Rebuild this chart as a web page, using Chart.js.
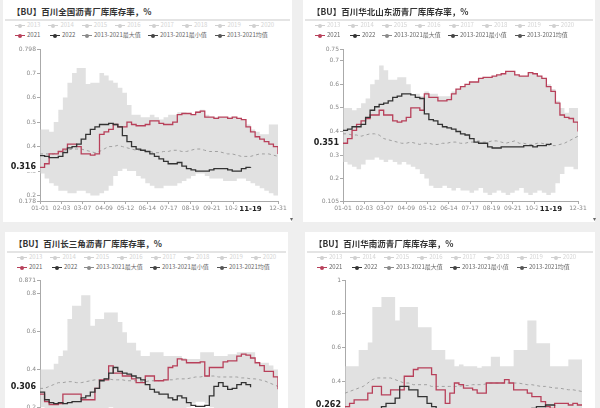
<!DOCTYPE html>
<html>
<head>
<meta charset="utf-8">
<script src="https://cdn.jsdelivr.net/npm/chart.js@4/dist/chart.umd.min.js"></script>
<style>
  body { margin: 0; width: 600px; height: 408px; overflow: hidden; background: #efefef; font-family: "Noto Sans CJK SC", "Noto Sans", sans-serif; }
  .card { position: absolute; background: #fff; height: 222px; }
  .title { position: absolute; left: 9px; top: 5px; font-size: 8.5px; font-weight: bold; color: #333; white-space: nowrap; }
  .sep { position: absolute; left: 2px; right: 2px; top: 19px; height: 2px; background: #e4e4e4; }
  .row { position: absolute; left: 0; right: 0; height: 8px; }
  .it { position: absolute; height: 8px; font-size: 6px; line-height: 8px; white-space: nowrap; }
  .mk { position: absolute; left: 0; top: 4px; width: 10px; height: 1px; }
  .mk::after { content: ''; position: absolute; left: 3px; top: -1.5px; width: 4px; height: 4px; border-radius: 50%; background: inherit; }
  .tx { position: absolute; left: 12px; top: 0; }
  canvas { position: absolute; left: 0; top: 40px; }
  .corner { position: absolute; font-size: 6px; color: #666; }
</style>
</head>
<body>
<div id="page"></div>
<script>
// week points: day 0, 7, 14 ... 364
const xTickDays = [0, 33, 65, 98, 131, 164, 197, 230, 263, 296, 364];
const xTickLabels = ['01-01', '02-03', '03-07', '04-09', '05-12', '06-14', '07-17', '08-19', '09-21', '10-24', '12-31'];
const lastDay = 322;
const lastDayLabel = '11-19';

const fadedYears = ['2013', '2014', '2015', '2016', '2017', '2018', '2019', '2020'];
const seriesNames = ['2021', '2022', '2013-2021最大值', '2013-2021最小值', '2013-2021均值'];

// 全国
const qg2021 = [0.315,0.33,0.37,0.37,0.38,0.39,0.41,0.41,0.40,0.37,0.37,0.365,0.37,0.45,0.46,0.47,0.49,0.48,0.48,0.50,0.49,0.485,0.485,0.49,0.505,0.505,0.495,0.49,0.49,0.50,0.53,0.535,0.535,0.53,0.54,0.545,0.52,0.52,0.515,0.52,0.52,0.515,0.52,0.515,0.51,0.48,0.46,0.44,0.43,0.42,0.41,0.40,0.37];
const qg2022 = [0.363,0.36,0.355,0.355,0.36,0.375,0.395,0.40,0.41,0.43,0.45,0.47,0.48,0.49,0.49,0.495,0.49,0.48,0.445,0.42,0.40,0.39,0.385,0.38,0.37,0.36,0.35,0.34,0.33,0.33,0.335,0.32,0.31,0.305,0.30,0.30,0.30,0.305,0.31,0.31,0.31,0.305,0.30,0.30,0.31,0.315,0.316];
const qgMax = [0.47,0.47,0.46,0.50,0.55,0.60,0.66,0.70,0.72,0.72,0.655,0.66,0.66,0.70,0.69,0.67,0.66,0.64,0.62,0.57,0.53,0.53,0.52,0.52,0.53,0.52,0.51,0.52,0.53,0.53,0.54,0.54,0.535,0.53,0.545,0.55,0.53,0.52,0.52,0.52,0.52,0.52,0.52,0.515,0.51,0.49,0.47,0.46,0.45,0.45,0.49,0.49,0.47];
const qgMin = [0.29,0.27,0.25,0.24,0.22,0.22,0.21,0.21,0.22,0.22,0.21,0.20,0.20,0.21,0.22,0.24,0.28,0.30,0.31,0.30,0.30,0.28,0.27,0.25,0.24,0.23,0.23,0.24,0.24,0.24,0.25,0.26,0.27,0.28,0.29,0.29,0.28,0.27,0.27,0.27,0.26,0.26,0.26,0.27,0.27,0.26,0.25,0.24,0.23,0.22,0.21,0.20,0.19];
const qgAvg = [0.37,0.37,0.37,0.37,0.38,0.38,0.385,0.39,0.39,0.39,0.385,0.38,0.375,0.38,0.39,0.40,0.40,0.405,0.40,0.395,0.39,0.385,0.385,0.38,0.38,0.375,0.375,0.38,0.38,0.385,0.385,0.38,0.38,0.385,0.39,0.39,0.385,0.38,0.38,0.38,0.375,0.37,0.37,0.365,0.36,0.36,0.36,0.365,0.37,0.37,0.37,0.365,0.36];
const qgYTicks = [0.178, 0.2, 0.3, 0.4, 0.5, 0.6, 0.7, 0.798];

// 华北山东
const hb2021 = [0.35,0.37,0.405,0.43,0.445,0.455,0.47,0.47,0.49,0.47,0.47,0.445,0.44,0.445,0.46,0.50,0.50,0.49,0.56,0.545,0.545,0.53,0.53,0.535,0.56,0.58,0.59,0.60,0.61,0.61,0.625,0.63,0.63,0.635,0.64,0.645,0.655,0.655,0.64,0.635,0.635,0.65,0.645,0.635,0.625,0.59,0.57,0.52,0.47,0.46,0.455,0.44,0.40];
const hb2022 = [0.405,0.41,0.42,0.42,0.43,0.46,0.49,0.505,0.515,0.52,0.53,0.545,0.55,0.56,0.56,0.555,0.545,0.54,0.475,0.45,0.445,0.43,0.42,0.415,0.41,0.40,0.39,0.385,0.37,0.355,0.35,0.35,0.335,0.33,0.33,0.335,0.335,0.335,0.335,0.335,0.34,0.34,0.335,0.34,0.34,0.345,0.351];
const hbMax = [0.50,0.50,0.49,0.50,0.52,0.54,0.60,0.62,0.68,0.66,0.62,0.62,0.63,0.63,0.60,0.55,0.56,0.55,0.57,0.56,0.56,0.55,0.55,0.55,0.57,0.58,0.59,0.60,0.61,0.61,0.625,0.63,0.63,0.635,0.64,0.645,0.655,0.655,0.64,0.635,0.635,0.65,0.645,0.635,0.625,0.60,0.58,0.53,0.50,0.48,0.50,0.50,0.49];
const hbMin = [0.27,0.26,0.25,0.24,0.26,0.28,0.28,0.29,0.28,0.27,0.28,0.27,0.26,0.27,0.26,0.25,0.24,0.22,0.20,0.17,0.16,0.16,0.17,0.16,0.15,0.16,0.15,0.15,0.14,0.15,0.16,0.14,0.13,0.14,0.15,0.14,0.13,0.14,0.15,0.16,0.14,0.13,0.14,0.15,0.14,0.13,0.14,0.18,0.22,0.25,0.25,0.24,0.26];
const hbAvg = [0.39,0.39,0.385,0.385,0.38,0.385,0.39,0.39,0.385,0.37,0.365,0.36,0.355,0.35,0.35,0.355,0.35,0.345,0.35,0.35,0.345,0.345,0.35,0.35,0.355,0.355,0.35,0.35,0.355,0.355,0.36,0.355,0.355,0.36,0.36,0.355,0.35,0.355,0.36,0.35,0.35,0.345,0.345,0.35,0.35,0.345,0.34,0.34,0.345,0.35,0.36,0.37,0.38];
const hbYTicks = [0.105, 0.2, 0.3, 0.4, 0.5, 0.6, 0.7, 0.75];

// 长三角
const csj2021 = [0.27,0.23,0.215,0.215,0.22,0.27,0.27,0.27,0.27,0.24,0.24,0.24,0.30,0.345,0.345,0.418,0.38,0.38,0.365,0.365,0.35,0.33,0.33,0.365,0.365,0.34,0.34,0.345,0.41,0.418,0.455,0.45,0.435,0.435,0.435,0.44,0.365,0.41,0.41,0.41,0.44,0.445,0.445,0.47,0.48,0.475,0.46,0.435,0.42,0.39,0.39,0.36,0.295];
const csj2022 = [0.28,0.24,0.225,0.22,0.225,0.22,0.225,0.23,0.23,0.25,0.26,0.28,0.30,0.34,0.35,0.38,0.41,0.39,0.38,0.375,0.365,0.355,0.345,0.32,0.295,0.28,0.27,0.27,0.25,0.24,0.26,0.25,0.225,0.21,0.205,0.205,0.21,0.26,0.31,0.33,0.31,0.295,0.30,0.32,0.33,0.32,0.306];
const csjMax = [0.40,0.40,0.40,0.43,0.47,0.50,0.665,0.735,0.735,0.79,0.79,0.63,0.665,0.665,0.70,0.70,0.70,0.65,0.595,0.54,0.54,0.50,0.47,0.47,0.49,0.49,0.49,0.47,0.47,0.47,0.47,0.46,0.455,0.455,0.455,0.49,0.49,0.49,0.47,0.47,0.47,0.48,0.48,0.49,0.49,0.49,0.49,0.44,0.435,0.435,0.42,0.40,0.40];
const csjMin = [0.20,0.19,0.17,0.15,0.14,0.13,0.12,0.12,0.13,0.14,0.15,0.16,0.17,0.18,0.19,0.20,0.19,0.18,0.17,0.16,0.15,0.14,0.13,0.12,0.12,0.13,0.14,0.15,0.16,0.17,0.18,0.19,0.20,0.22,0.23,0.23,0.22,0.20,0.18,0.17,0.16,0.16,0.15,0.14,0.15,0.16,0.17,0.18,0.17,0.16,0.15,0.14,0.14];
const csjAvg = [0.30,0.30,0.31,0.32,0.33,0.33,0.335,0.335,0.33,0.33,0.335,0.34,0.345,0.345,0.35,0.35,0.345,0.345,0.345,0.34,0.34,0.34,0.335,0.335,0.34,0.34,0.34,0.345,0.345,0.345,0.35,0.35,0.35,0.355,0.36,0.36,0.365,0.365,0.365,0.36,0.36,0.36,0.36,0.36,0.355,0.355,0.35,0.35,0.345,0.34,0.33,0.32,0.31];
const csjYTicks = [0.07, 0.2, 0.4, 0.6, 0.8, 0.871];

// 华南
const hn2021 = [0.25,0.27,0.29,0.29,0.29,0.33,0.37,0.37,0.32,0.32,0.35,0.35,0.35,0.43,0.43,0.47,0.48,0.48,0.48,0.44,0.35,0.35,0.27,0.33,0.39,0.38,0.36,0.36,0.35,0.33,0.33,0.39,0.39,0.39,0.39,0.41,0.39,0.35,0.35,0.35,0.33,0.31,0.31,0.28,0.25,0.24,0.27,0.27,0.27,0.26,0.27,0.26,0.26];
const hn2022 = [0.23,0.22,0.21,0.20,0.20,0.21,0.22,0.23,0.25,0.27,0.27,0.30,0.37,0.37,0.35,0.35,0.31,0.31,0.27,0.25,0.22,0.20,0.19,0.18,0.18,0.17,0.17,0.16,0.16,0.15,0.16,0.17,0.17,0.18,0.18,0.19,0.20,0.20,0.21,0.22,0.23,0.24,0.25,0.25,0.26,0.26,0.262];
const hnMax = [0.49,0.49,0.49,0.585,0.585,0.63,0.84,0.84,0.90,0.90,0.90,0.76,0.84,0.84,0.84,0.84,0.72,0.72,0.72,0.585,0.585,0.585,0.53,0.53,0.49,0.50,0.49,0.49,0.49,0.48,0.49,0.49,0.545,0.545,0.49,0.49,0.49,0.585,0.585,0.585,0.76,0.76,0.625,0.625,0.625,0.49,0.49,0.49,0.49,0.53,0.53,0.53,0.53];
const hnMin = [0.18,0.17,0.16,0.15,0.14,0.14,0.13,0.13,0.14,0.15,0.16,0.17,0.18,0.19,0.18,0.17,0.16,0.15,0.14,0.13,0.13,0.12,0.12,0.13,0.14,0.15,0.15,0.14,0.13,0.13,0.12,0.13,0.14,0.15,0.16,0.17,0.16,0.15,0.15,0.14,0.14,0.15,0.16,0.17,0.18,0.18,0.17,0.16,0.16,0.17,0.18,0.18,0.19];
const hnAvg = [0.33,0.34,0.35,0.36,0.37,0.39,0.41,0.42,0.42,0.42,0.42,0.41,0.40,0.39,0.39,0.38,0.38,0.38,0.38,0.37,0.37,0.37,0.37,0.37,0.37,0.37,0.375,0.375,0.38,0.38,0.38,0.385,0.39,0.39,0.39,0.39,0.39,0.39,0.39,0.385,0.38,0.38,0.375,0.37,0.37,0.365,0.36,0.36,0.355,0.35,0.35,0.345,0.34];
const hnYTicks = [0.1, 0.2, 0.4, 0.6, 0.8, 1];

const panels = [
  { title: '【BU】百川全国沥青厂库库存率，%', left: 3, top: 0, width: 289, axisW: 37, padR: 14, padT: 9,
    s2021: qg2021, s2022: qg2022, max: qgMax, min: qgMin, avg: qgAvg, yTicks: qgYTicks },
  { title: '【BU】百川华北山东沥青厂库库存率，%', left: 303, top: 0, width: 292, axisW: 40, padR: 17, padT: 9,
    s2021: hb2021, s2022: hb2022, max: hbMax, min: hbMin, avg: hbAvg, yTicks: hbYTicks },
  { title: '【BU】百川长三角沥青厂库库存率，%', left: 5, top: 232, width: 283, axisW: 35, padR: 10, padT: 8,
    s2021: csj2021, s2022: csj2022, max: csjMax, min: csjMin, avg: csjAvg, yTicks: csjYTicks },
  { title: '【BU】百川华南沥青厂库库存率，%', left: 305, top: 232, width: 290, axisW: 40, padR: 13, padT: 8,
    s2021: hn2021, s2022: hn2022, max: hnMax, min: hnMin, avg: hnAvg, yTicks: hnYTicks }
];

const RED = '#b8405a';
const DARK = '#333';
const seriesColors = [RED, DARK, '#8a8a8a', '#444', '#555'];
const row2Pos = [12, 47, 79, 145, 212];

function toPoints(arr) {
  return arr.map((v, i) => ({ x: i * 7, y: v }));
}

const markPlugin = {
  id: 'mark',
  afterDraw(chart, args, opts) {
    const { ctx, scales: { x, y } } = chart;
    ctx.save();
    // current value on the y axis
    const txt = opts.value.toFixed(3);
    ctx.font = 'bold 8px "DejaVu Sans"';
    const w = ctx.measureText(txt).width;
    const yy = y.getPixelForValue(opts.value);
    const rx = x.left - 4 - w;
    ctx.fillStyle = '#fff';
    ctx.fillRect(rx - 2, yy - 5, w + 4, 10);
    ctx.fillStyle = '#222';
    ctx.textBaseline = 'middle';
    ctx.fillText(txt, rx, yy);
    // current date on the x axis
    ctx.font = 'bold 7px "DejaVu Sans"';
    const w2 = ctx.measureText(opts.day).width;
    const xx = x.getPixelForValue(lastDay);
    ctx.fillStyle = '#fff';
    ctx.fillRect(xx - w2 / 2 - 2, y.bottom + 3, w2 + 4, 9);
    ctx.fillStyle = '#222';
    ctx.textAlign = 'center';
    ctx.fillText(opts.day, xx, y.bottom + 8);
    ctx.restore();
  }
};

const page = document.getElementById('page');

panels.forEach((p, idx) => {
  const card = document.createElement('div');
  card.className = 'card';
  card.style.left = p.left + 'px';
  card.style.top = p.top + 'px';
  card.style.width = p.width + 'px';

  let html = `<div class="title">${p.title}</div><div class="sep"></div>`;
  html += '<div class="row" style="top:21px">';
  fadedYears.forEach((yr, i) => {
    html += `<span class="it" style="left:${12 + i * 33.4}px;color:#d4d4d4"><i class="mk" style="background:#d0d0d0"></i><span class="tx">${yr}</span></span>`;
  });
  html += '</div><div class="row" style="top:31px">';
  seriesNames.forEach((nm, i) => {
    html += `<span class="it" style="left:${row2Pos[i]}px;color:#666"><i class="mk" style="background:${seriesColors[i]}"></i><span class="tx">${nm}</span></span>`;
  });
  html += '</div>';
  card.innerHTML = html;

  const canvas = document.createElement('canvas');
  const h = 152 + p.padT + 14 + 2;
  canvas.width = p.width;
  canvas.height = h;
  canvas.style.width = p.width + 'px';
  canvas.style.height = h + 'px';
  card.appendChild(canvas);

  const corner = document.createElement('div');
  corner.className = 'corner';
  corner.style.left = (p.width - 2) + 'px';
  corner.style.top = '214px';
  corner.textContent = '▾';
  card.appendChild(corner);
  page.appendChild(card);

  const yMin = p.yTicks[0];
  const yMax = p.yTicks[p.yTicks.length - 1];
  const current = p.s2022[p.s2022.length - 1];

  new Chart(canvas, {
    type: 'line',
    data: {
      datasets: [
        { label: '2021', data: toPoints(p.s2021), borderColor: RED, borderWidth: 1.3, stepped: true, order: 1 },
        { label: '2022', data: toPoints(p.s2022), borderColor: DARK, borderWidth: 1.3, stepped: true, order: 0 },
        { label: '2013-2021均值', data: toPoints(p.avg), borderColor: '#a0a0a0', borderWidth: 1, borderDash: [3, 3], order: 2 },
        { label: '2013-2021最大值', data: toPoints(p.max), borderWidth: 0, borderColor: 'rgba(0,0,0,0)', stepped: true,
          backgroundColor: 'rgba(205,205,205,0.6)', fill: '+1', order: 3 },
        { label: '2013-2021最小值', data: toPoints(p.min), borderWidth: 0, borderColor: 'rgba(0,0,0,0)', stepped: true, order: 4 }
      ]
    },
    options: {
      responsive: false,
      animation: false,
      events: [],
      elements: { point: { radius: 0 } },
      layout: { padding: { top: p.padT, right: p.padR, bottom: 2, left: 0 } },
      plugins: {
        legend: { display: false },
        tooltip: { enabled: false },
        mark: { value: current, day: lastDayLabel }
      },
      scales: {
        x: {
          type: 'linear', min: 0, max: 364,
          afterBuildTicks: axis => { axis.ticks = xTickDays.map(v => ({ value: v })); },
          afterFit: axis => { axis.height = 14; },
          grid: { drawOnChartArea: false, tickLength: 3, color: '#aaa' },
          border: { color: '#aaa' },
          ticks: {
            autoSkip: false, maxRotation: 0, padding: 1, color: '#888',
            font: { size: 6, family: 'DejaVu Sans' },
            callback: v => xTickLabels[xTickDays.indexOf(v)]
          }
        },
        y: {
          min: yMin, max: yMax,
          afterBuildTicks: axis => { axis.ticks = p.yTicks.map(v => ({ value: v })); },
          afterFit: axis => { axis.width = p.axisW; },
          grid: { drawOnChartArea: false, tickLength: 3, color: '#aaa' },
          border: { color: '#aaa' },
          ticks: {
            padding: 1, color: '#888',
            font: { size: 6, family: 'DejaVu Sans' },
            callback: v => String(v)
          }
        }
      }
    },
    plugins: [markPlugin]
  });
});
</script>
</body>
</html>
